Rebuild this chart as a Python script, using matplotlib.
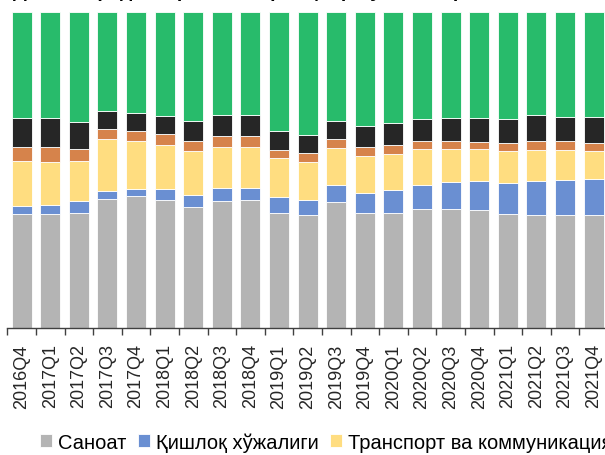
import numpy as np
import matplotlib.pyplot as plt

quarters = ["2016Q4", "2017Q1", "2017Q2", "2017Q3", "2017Q4",
            "2018Q1", "2018Q2", "2018Q3", "2018Q4",
            "2019Q1", "2019Q2", "2019Q3", "2019Q4",
            "2020Q1", "2020Q2", "2020Q3", "2020Q4",
            "2021Q1", "2021Q2", "2021Q3", "2021Q4"]

sanoat = [36.1, 36.0, 36.4, 40.8, 41.8, 40.6, 38.3, 40.2, 40.6, 36.4, 35.8,
          40.0, 36.4, 36.3, 37.6, 37.6, 37.3, 36.0, 35.8, 35.9, 35.8]
qishloq = [2.4, 3.0, 3.7, 2.6, 2.2, 3.4, 3.7, 4.0, 3.6, 5.1, 4.7,
           5.3, 6.3, 7.3, 7.8, 8.5, 9.3, 9.9, 10.7, 10.9, 11.2]
transport = [14.2, 13.6, 12.7, 16.4, 15.2, 14.0, 13.9, 13.0, 13.1, 12.3, 12.1,
             11.8, 11.7, 11.5, 11.2, 10.4, 9.9, 10.0, 9.7, 9.4, 9.0]
savdo = [4.5, 4.7, 4.0, 3.2, 3.2, 3.4, 3.3, 3.7, 3.5, 2.6, 2.8,
         2.7, 2.8, 2.8, 2.6, 2.6, 2.5, 2.7, 3.0, 3.0, 2.7]
qurilish = [9.1, 9.1, 8.4, 5.6, 5.6, 5.6, 6.2, 6.6, 6.6, 6.0, 5.8,
            5.6, 6.8, 7.0, 7.0, 7.2, 7.3, 7.5, 8.1, 7.6, 8.0]
boshqa = [33.6, 33.6, 34.9, 31.4, 32.1, 33.0, 34.6, 32.6, 32.6, 37.6, 38.8,
          34.7, 36.0, 35.1, 33.9, 33.6, 33.6, 33.9, 32.8, 33.3, 33.3]

series = [sanoat, qishloq, transport, savdo, qurilish, boshqa]
names = ["Саноат", "Қишлоқ хўжалиги", "Транспорт ва коммуникация",
         "Савдо", "Қурилиш", "Бошқа тармоқлар"]
colors = ["#B4B4B4", "#6A8FD2", "#FFDD80", "#D6834B", "#262626", "#28BB6B"]

plt.rcParams['font.family'] = ['Liberation Sans', 'DejaVu Sans']

fig = plt.figure(figsize=(6.05, 4.56), dpi=100)
ax = fig.add_axes([7.3 / 605, (456 - 329) / 456, 600.6 / 605, 316 / 456])

x = np.arange(len(quarters))
bottom = np.zeros(len(quarters))
for vals, name, col in zip(series, names, colors):
    vals = np.array(vals)
    ax.bar(x, vals, 0.7, bottom=bottom, color=col, label=name,
           edgecolor="white", linewidth=0.6)
    bottom += vals

ax.set_xlim(-0.5, len(quarters) - 0.5)
ax.set_ylim(0, 100)
ax.set_yticks([])
for s in ["left", "right", "top"]:
    ax.spines[s].set_visible(False)
ax.spines["bottom"].set_color("#404040")
ax.spines["bottom"].set_linewidth(1.0)

ax.set_xticks(x)
ax.set_xticklabels(quarters, rotation=90, fontsize=13, color="#262626")
ax.tick_params(axis="x", which="major", length=0, pad=11)
ax.set_xticks(np.arange(-0.5, len(quarters), 1.0), minor=True)
ax.tick_params(axis="x", which="minor", length=5, width=1.0, color="#404040")

# title sits above the top edge, only its lowest pixels show
fig.text(13 / 605, 1 + 3 / 456, "Давлат кредитларининг тармоқлар бўйича таркиби, %",
         fontsize=14, fontweight="bold", va="baseline", ha="left")

fig.legend(loc="center left", bbox_to_anchor=(40 / 605, (456 - 443) / 456),
           ncol=6, frameon=False, fontsize=14.5, handlelength=0.6,
           handleheight=0.6, handletextpad=0.3, columnspacing=0.55,
           borderaxespad=0, borderpad=0)

fig.savefig("out.png", dpi=100)
